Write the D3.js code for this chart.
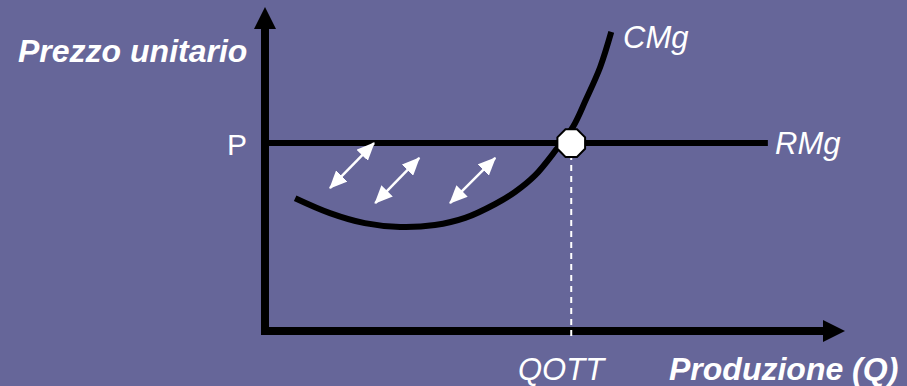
<!DOCTYPE html>
<html>
<head>
<meta charset="utf-8">
<script src="https://cdn.jsdelivr.net/npm/d3@7"></script>
<style>
  html, body { margin: 0; padding: 0; background: #666699; }
  svg { display: block; }
  text { font-family: "Liberation Sans", Arial, sans-serif; fill: #fff; }
</style>
</head>
<body>
<div id="chart"></div>
<script>
// Marginal cost (CMg) vs marginal revenue (RMg) – chart units 0..100
const cmgQ     = [5.2, 11.2, 17.2, 23.3, 29.3, 34.5, 39.7, 43.1, 46.6, 50.3, 53.1, 55.3, 57.8, 59.7];
const cmgPrice = [41.0, 36.4, 33.3, 32.1, 32.7, 34.9, 39.2, 42.9, 48.1, 56.2, 63.0, 71.3, 81.5, 92.3];

const priceP = 58;      // RMg level (P)
const qOtt   = 52.8;    // optimal quantity
const rmgEnd = 86.7;    // where the RMg line stops

// double-headed arrows between CMg and RMg: [q0, p0, q1, p1]
const gapArrows = [
    [11.2, 44.1, 18.8, 58.0],
    [19.0, 39.5, 26.6, 53.4],
    [31.9, 39.5, 39.7, 53.4]
];

const labels = {
    yAxis: "Prezzo unitario",
    xAxis: "Produzione (Q)",
    p: "P",
    q: "QOTT",
    cmg: "CMg",
    rmg: "RMg"
};

const w = 907;
const h = 386;

const svg = d3.select("#chart")
    .append("svg")
    .attr("width", w)
    .attr("height", h);

// Scales
const x = d3.scaleLinear().domain([0, 100]).range([265, 845]);
const y = d3.scaleLinear().domain([0, 100]).range([331, 7]);

const defs = svg.append("defs");

// big black arrowhead for axes (base at the line end)
defs.append("marker")
    .attr("id", "axisHead")
    .attr("markerUnits", "userSpaceOnUse")
    .attr("viewBox", "0 -11 22 22")
    .attr("refX", 0).attr("refY", 0)
    .attr("markerWidth", 22).attr("markerHeight", 22)
    .attr("orient", "auto")
    .append("path")
    .attr("d", "M0,-11L22,0L0,11Z")
    .attr("fill", "#000");

// small white arrowhead
defs.append("marker")
    .attr("id", "whiteHead")
    .attr("markerUnits", "userSpaceOnUse")
    .attr("viewBox", "0 -8 18 16")
    .attr("refX", 17).attr("refY", 0)
    .attr("markerWidth", 18).attr("markerHeight", 16)
    .attr("orient", "auto-start-reverse")
    .append("path")
    .attr("d", "M0,-8L18,0L0,8Z")
    .attr("fill", "#fff");

const headLen = 22;

// Axes
svg.append("line")
    .attr("x1", x(0)).attr("y1", y(0) + 4)
    .attr("x2", x(0)).attr("y2", y(100) + headLen)
    .attr("stroke", "#000")
    .attr("stroke-width", 8)
    .attr("marker-end", "url(#axisHead)");

svg.append("line")
    .attr("x1", x(0) - 4).attr("y1", y(0))
    .attr("x2", x(100) - headLen).attr("y2", y(0))
    .attr("stroke", "#000")
    .attr("stroke-width", 8)
    .attr("marker-end", "url(#axisHead)");

// RMg line
svg.append("line")
    .attr("x1", x(0)).attr("y1", y(priceP))
    .attr("x2", x(rmgEnd)).attr("y2", y(priceP))
    .attr("stroke", "#000")
    .attr("stroke-width", 6);

// CMg curve
const cmgData = cmgQ.map((q, i) => [q, cmgPrice[i]]);
svg.append("path")
    .datum(cmgData)
    .attr("fill", "none")
    .attr("stroke", "#000")
    .attr("stroke-width", 6)
    .attr("d", d3.line()
        .x(d => x(d[0]))
        .y(d => y(d[1]))
        .curve(d3.curveCatmullRom.alpha(0.5)));

// dashed drop line to QOTT
svg.append("line")
    .attr("x1", x(qOtt)).attr("y1", y(priceP))
    .attr("x2", x(qOtt)).attr("y2", y(0) + 9)
    .attr("stroke", "#fff")
    .attr("stroke-width", 2)
    .attr("stroke-dasharray", "6,5");

// white double arrows
svg.selectAll(".gap")
    .data(gapArrows)
    .enter()
    .append("line")
    .attr("class", "gap")
    .attr("x1", d => x(d[0])).attr("y1", d => y(d[1]))
    .attr("x2", d => x(d[2])).attr("y2", d => y(d[3]))
    .attr("stroke", "#fff")
    .attr("stroke-width", 2.5)
    .attr("marker-start", "url(#whiteHead)")
    .attr("marker-end", "url(#whiteHead)");

// intersection octagon
const r = 15;
const octagon = d3.range(8).map(i => {
    const a = Math.PI / 8 + i * Math.PI / 4;
    return [x(qOtt) + r * Math.cos(a), y(priceP) + r * Math.sin(a)];
});
svg.append("polygon")
    .attr("points", octagon.map(p => p.join(",")).join(" "))
    .attr("fill", "#fff")
    .attr("stroke", "#000")
    .attr("stroke-width", 2);

// Labels
svg.append("text")
    .attr("x", 18).attr("y", 62)
    .style("font-size", "32px")
    .style("font-weight", "bold")
    .style("font-style", "italic")
    .text(labels.yAxis);

svg.append("text")
    .attr("x", 669).attr("y", 380)
    .style("font-size", "32px")
    .style("font-weight", "bold")
    .style("font-style", "italic")
    .text(labels.xAxis);

svg.append("text")
    .attr("x", x(0) - 18).attr("y", y(priceP) + 12)
    .attr("text-anchor", "end")
    .style("font-size", "30px")
    .text(labels.p);

svg.append("text")
    .attr("x", 518).attr("y", 380)
    .style("font-size", "31px")
    .style("font-style", "italic")
    .text(labels.q);

svg.append("text")
    .attr("x", 623).attr("y", 48)
    .style("font-size", "31px")
    .style("font-style", "italic")
    .text(labels.cmg);

svg.append("text")
    .attr("x", 775).attr("y", 154)
    .style("font-size", "31px")
    .style("font-style", "italic")
    .text(labels.rmg);
</script>
</body>
</html>
